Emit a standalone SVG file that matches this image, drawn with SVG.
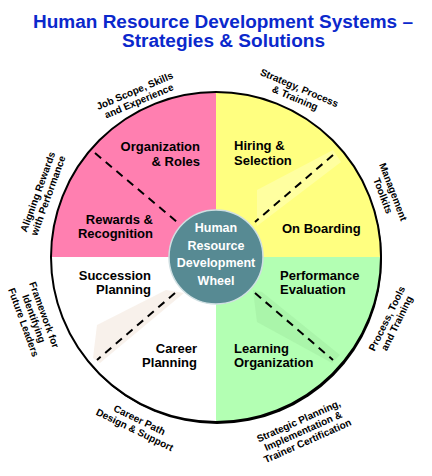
<svg xmlns="http://www.w3.org/2000/svg" width="432" height="476" viewBox="0 0 432 476">
<style>
text{font-family:"Liberation Sans",Arial,sans-serif;font-weight:bold;}
.title{font-size:18px;fill:#0b28cc;text-anchor:middle;}
.q{font-size:13px;fill:#000;}
.c{font-size:12.5px;fill:#fff;text-anchor:middle;}
.o{font-size:10px;fill:#000;text-anchor:middle;}
.dash{stroke:#000;stroke-width:2;stroke-dasharray:8 6;fill:none;}
</style>
<rect width="432" height="476" fill="#fff"/>
<g id="title">
<text class="title" x="223" y="28" textLength="380" lengthAdjust="spacingAndGlyphs">Human Resource Development Systems –</text>
<text class="title" x="223.5" y="47" textLength="203" lengthAdjust="spacingAndGlyphs">Strategies &amp; Solutions</text>
</g>
<g id="wheel">
<circle cx="217" cy="259" r="165" fill="#000"/>
<path id="q-nw" d="M216,257 L51,257 A165,165 0 0 1 216,92 Z" fill="#ff7fb0"/>
<path id="q-ne" d="M216,257 L216,92 A165,165 0 0 1 381,257 Z" fill="#ffff80"/>
<path id="q-se" d="M216,257 L381,257 A165,165 0 0 1 216,422 Z" fill="#b3ffb3"/>
<path id="q-sw" d="M216,257 L216,422 A165,165 0 0 1 51,257 Z" fill="#fff"/>
<circle cx="216" cy="257" r="165" fill="none" stroke="#000" stroke-width="2"/>
<polygon points="257,226 257,190 333,150 341,162" fill="#fff" opacity="0.25"/>
<polygon points="166,290 184,293 100,363 93,358 97,325" fill="#f3e6da" opacity="0.55"/>
<polygon points="253,290 262,292 340,355 332,363 257,322" fill="#8fd88f" opacity="0.25"/>
</g>
<g id="connectors">
<line class="dash" x1="95" y1="153" x2="177" y2="222"/>
<line class="dash" x1="333" y1="155" x2="255" y2="222"/>
<line class="dash" x1="175" y1="293" x2="97" y2="360"/>
<line class="dash" x1="255" y1="293" x2="333" y2="360"/>
</g>
<g id="hub">
<circle cx="216" cy="257" r="47" fill="#578a93" stroke="#cfdfe2" stroke-width="1.5"/>
<text class="c" x="216" y="232">Human</text>
<text class="c" x="216" y="250">Resource</text>
<text class="c" x="216" y="267">Development</text>
<text class="c" x="216" y="285">Wheel</text>
</g>
<g id="organization-roles">
<text class="q" text-anchor="end" x="200" y="151">Organization</text>
<text class="q" text-anchor="end" x="200" y="166">&amp; Roles</text>
</g>
<g id="hiring-selection">
<text class="q" x="234" y="150">Hiring &amp;</text>
<text class="q" x="234" y="165">Selection</text>
</g>
<g id="rewards-recognition">
<text class="q" text-anchor="end" x="153" y="224">Rewards &amp;</text>
<text class="q" text-anchor="end" x="153" y="238">Recognition</text>
</g>
<g id="on-boarding">
<text class="q" x="282" y="233">On Boarding</text>
</g>
<g id="succession-planning">
<text class="q" text-anchor="end" x="151" y="280">Succession</text>
<text class="q" text-anchor="end" x="151" y="294">Planning</text>
</g>
<g id="performance-evaluation">
<text class="q" x="280" y="280">Performance</text>
<text class="q" x="280" y="294">Evaluation</text>
</g>
<g id="career-planning">
<text class="q" text-anchor="end" x="197" y="353">Career</text>
<text class="q" text-anchor="end" x="197" y="367">Planning</text>
</g>
<g id="learning-organization">
<text class="q" x="234" y="353">Learning</text>
<text class="q" x="234" y="367">Organization</text>
</g>
<g id="label-job-scope" transform="translate(136,94) rotate(-23)">
<text class="o" x="0" y="0">Job Scope, Skills</text>
<text class="o" x="0" y="11">and Experience</text>
</g>
<g id="label-strategy" transform="translate(298,91) rotate(23)">
<text class="o" x="0" y="0">Strategy, Process</text>
<text class="o" x="0" y="11">&amp; Training</text>
</g>
<g id="label-management" transform="translate(390,193) rotate(69)">
<text class="o" x="0" y="0">Management</text>
<text class="o" x="0" y="11">Toolkits</text>
</g>
<g id="label-process" transform="translate(390,320) rotate(-64)">
<text class="o" x="0" y="0">Process, Tools</text>
<text class="o" x="0" y="11">and Training</text>
</g>
<g id="label-aligning" transform="translate(41,193) rotate(-70)">
<text class="o" x="0" y="0">Aligning Rewards</text>
<text class="o" x="0" y="11">with Performance</text>
</g>
<g id="label-framework" transform="translate(41,316) rotate(70)">
<text class="o" x="0" y="0">Framework for</text>
<text class="o" x="0" y="11">Identifying</text>
<text class="o" x="0" y="22">Future Leaders</text>
</g>
<g id="label-career-path" transform="translate(138,423) rotate(26)">
<text class="o" x="0" y="0">Career Path</text>
<text class="o" x="0" y="11">Design &amp; Support</text>
</g>
<g id="label-strategic" transform="translate(300,424) rotate(-24)">
<text class="o" x="0" y="0">Strategic Planning,</text>
<text class="o" x="0" y="11">Implementation &amp;</text>
<text class="o" x="0" y="22">Trainer Certification</text>
</g>
</svg>
